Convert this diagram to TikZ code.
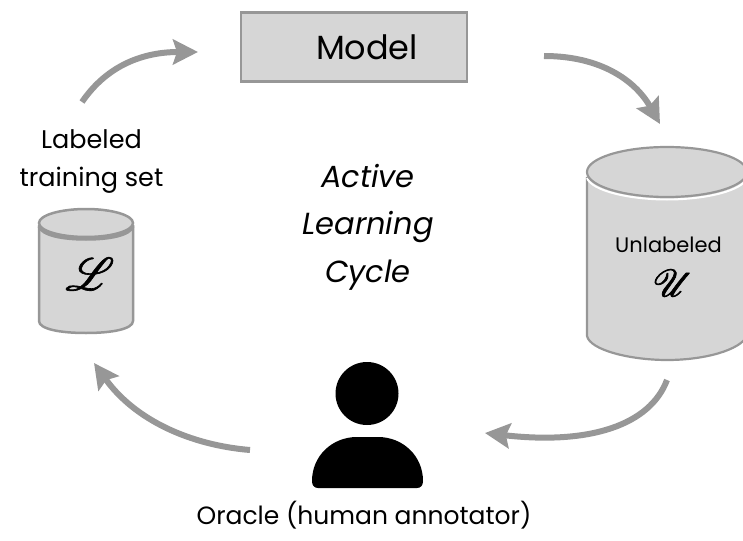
\documentclass[tikz,border=0pt]{standalone}
\usepackage{mathrsfs}
\usepackage{fontspec}
\setmainfont{Poppins}
\usetikzlibrary{arrows.meta}
\definecolor{fillg}{HTML}{D6D6D6}
\definecolor{lineg}{HTML}{979797}
\newcommand{\boldglyph}[2]{\special{pdf: code q 2 Tr #1 w}#2\special{pdf: code Q}}
\tikzset{
 x=1pt,y=-1pt,
 flow/.style={draw=lineg,line width=6pt,-{Stealth[length=25pt,width=25pt,inset=4pt]}},
 txt/.style={text=black,inner sep=0pt,align=center},
 can/.style={fill=fillg,draw=lineg},
}
\begin{document}
\begin{tikzpicture}
\useasboundingbox (0,0) rectangle (743,540);
% model
\node[can,line width=2.5pt,minimum width=226pt,minimum height=69pt,inner sep=0pt,anchor=center,font=\fontsize{33.5}{38}\selectfont] (model) at (354,47) {\hspace*{26pt}Model};
% left can
\path[can,line width=2.5pt] (39,226) -- (39,321) .. controls (39,329) and (60,333) .. (86,333) .. controls (112,333) and (133,329) .. (133,321) -- (133,226) -- cycle;
\draw[lineg,line width=3.5pt] (39,226) .. controls (42,235) and (62,239) .. (86,239) .. controls (110,239) and (130,235) .. (133,226);
\draw[can,line width=2.5pt] (86,223) ellipse [x radius=47,y radius=14];
\node[txt,scale=4.6] (L) at (90,274) {\boldglyph{0.14}{$\mathscr{L}$}};
\node[txt,font=\fontsize{25.5}{38}\selectfont] (labeled) at (91.5,162) {Labeled\\training set};
% right can
\path[can,line width=2.2pt] (587,178) -- (587,336) .. controls (590,350) and (630,360) .. (667,360) .. controls (705,360) and (740,350) .. (747,336) -- (747,178) -- cycle;
\draw[white,line width=2pt] (587,178) .. controls (592,191) and (630,199.5) .. (667,199.5) .. controls (705,199.5) and (742,191) .. (747,178);
\draw[can,line width=2.2pt] (667,172) ellipse [x radius=80,y radius=25];
\node[txt,font=\fontsize{21}{24}\selectfont] (unl) at (668.5,245) {Unlabeled};
\node[txt,scale=3.8] (U) at (673,283) {\boldglyph{0.18}{$\mathscr{U}$}};
% centre
\node[txt,font=\itshape\fontsize{30.5}{47.5}\selectfont] (cycle) at (368,227) {Active\\Learning\\Cycle};
% person
\node[circle,fill=black,minimum size=63pt,inner sep=0pt] (head) at (367,393.5) {};
\fill[black] (312,481) .. controls (312,456) and (332,437) .. (357,437) -- (378,437) .. controls (403,437) and (423,456) .. (423,481) .. controls (423,485) and (421,488) .. (417,488) -- (318,488) .. controls (314,488) and (312,485) .. (312,481) -- cycle;
\node[txt,font=\fontsize{25}{30}\selectfont] (oracle) at (364,515) {Oracle (human annotator)};
% arrows
\coordinate (a1) at (82,102);
\coordinate (a2) at (198,52);
\draw[flow] (a1) .. controls (108,64) and (145,52) .. (a2);
\coordinate (b1) at (544,56);
\coordinate (b2) at (660,124);
\draw[flow] (b1) .. controls (600,56) and (635,80) .. (b2);
\coordinate (c1) at (667,380);
\coordinate (c2) at (485,433);
\draw[flow] (c1) .. controls (650,425) and (590,445) .. (c2);
\coordinate (d1) at (250,450);
\coordinate (d2) at (94,363);
\draw[flow] (d1) .. controls (190,445) and (135,420) .. (d2);
\end{tikzpicture}
\end{document}
